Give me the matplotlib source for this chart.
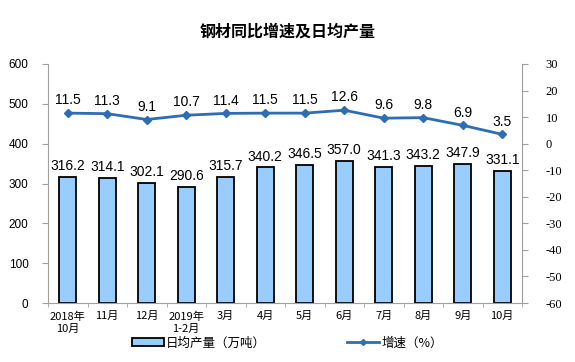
import matplotlib
matplotlib.use("Agg")
from matplotlib import pyplot as plt
from matplotlib.lines import Line2D
from matplotlib.patches import Patch
import numpy as np

plt.rcParams['font.family'] = ['Noto Sans CJK SC', 'DejaVu Sans']
plt.rcParams['axes.unicode_minus'] = False

categories = ['2018年\n10月', '11月', '12月', '2019年\n1-2月', '3月', '4月',
              '5月', '6月', '7月', '8月', '9月', '10月']
output = [316.2, 314.1, 302.1, 290.6, 315.7, 340.2, 346.5, 357.0, 341.3, 343.2, 347.9, 331.1]
growth = [11.5, 11.3, 9.1, 10.7, 11.4, 11.5, 11.5, 12.6, 9.6, 9.8, 6.9, 3.5]

bar_color = '#99CCFF'
line_color = '#2E6DB4'

fig = plt.figure(figsize=(5.75, 3.62), dpi=100)
ax = fig.add_axes([48 / 575, 1 - 303 / 362, (522 - 48) / 575, (303 - 64) / 362])
ax2 = ax.twinx()

x = np.arange(len(categories))
ax.bar(x, output, width=0.42, color=bar_color, edgecolor='black', linewidth=1.3, zorder=2)
for xi, v in zip(x, output):
    ax.text(xi, v + 10, f'{v:.1f}', ha='center', va='bottom', fontsize=10,
            family=['Liberation Sans'])

ax2.plot(x, growth, color=line_color, linewidth=2, marker='D', markersize=4, zorder=3)
for xi, v in zip(x, growth):
    ax2.text(xi, v + 2.2, f'{v:.1f}', ha='center', va='bottom', fontsize=10,
             family=['Liberation Sans'])

ax.set_xlim(-0.5, len(categories) - 0.5)
ax.set_ylim(0, 600)
ax.set_yticks(range(0, 601, 100))
ax2.set_ylim(-60, 30)
ax2.set_yticks(range(-60, 31, 10))

for a in (ax, ax2):
    for s in a.spines.values():
        s.set_visible(False)
ax.spines['left'].set_visible(True)
ax.spines['bottom'].set_visible(True)
ax2.spines['right'].set_visible(True)
for s in (ax.spines['left'], ax.spines['bottom'], ax2.spines['right']):
    s.set_color('#a0a0a0')

ax.set_xticks(x)
ax.set_xticklabels(categories, fontsize=8, linespacing=1.3)
ax.set_xticks(np.arange(-0.5, len(categories), 1), minor=True)
ax.tick_params(axis='x', which='major', length=0, pad=6)
ax.tick_params(axis='x', which='minor', length=3, color='#a0a0a0')
ax.tick_params(axis='y', length=4, color='#a0a0a0', labelsize=8.5, pad=10)
ax2.tick_params(axis='y', length=4, color='#a0a0a0', labelsize=9, pad=13)
for lbl in ax.get_yticklabels():
    lbl.set_family(['Liberation Sans'])
for lbl in ax2.get_yticklabels():
    lbl.set_family(['Liberation Serif'])

fig.text(0.5, 1 - 32 / 362, '钢材同比增速及日均产量', ha='center', va='center',
         fontsize=11.5, fontweight='bold')

handles = [Patch(facecolor=bar_color, edgecolor='black', linewidth=1.3),
           Line2D([], [], color=line_color, linewidth=2, marker='D', markersize=3)]
fig.legend(handles, ['日均产量（万吨）', '增速（%）'], loc='center',
           bbox_to_anchor=(0.5, 1 - 343 / 362), ncol=2, frameon=False, fontsize=9,
           handlelength=2.5, handleheight=0.6, columnspacing=6.5, handletextpad=0.2)

fig.savefig('out.png', dpi=100)
